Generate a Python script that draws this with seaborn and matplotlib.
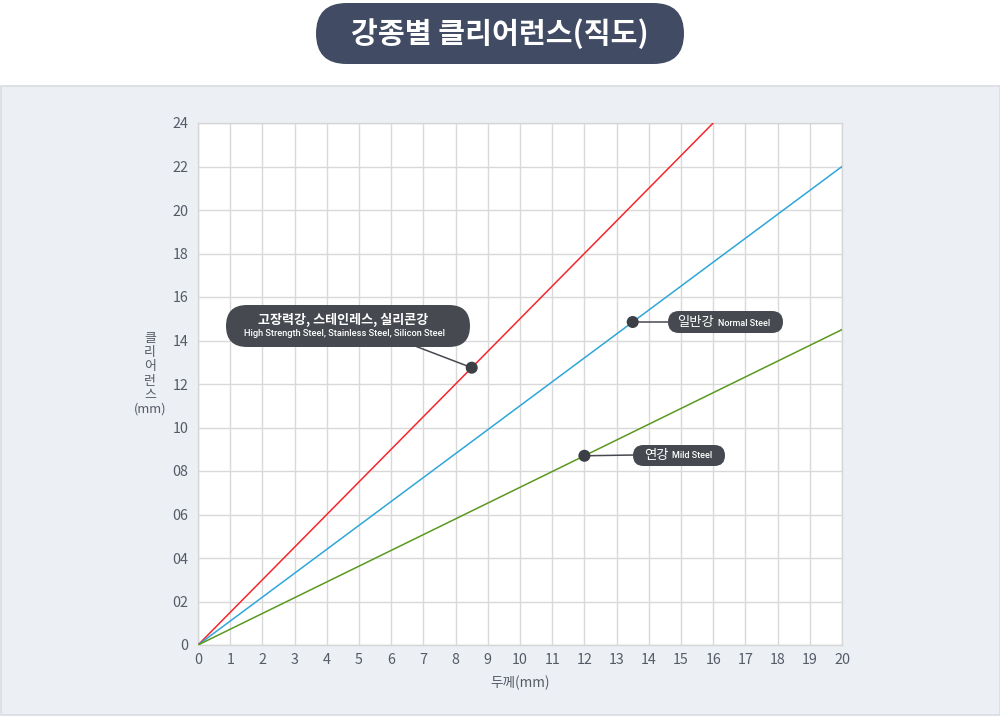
import matplotlib
matplotlib.use("Agg")
import matplotlib.pyplot as plt
from matplotlib.patches import FancyBboxPatch, Rectangle
from matplotlib.transforms import IdentityTransform
import seaborn as sns
import pandas as pd

# ---- data ----
red_x = [0, 16]
red_y = [0, 24]
blue_x = [0, 20]
blue_y = [0, 22]
green_x = [0, 20]
green_y = [0, 14.5]
marker_x = [8.5, 13.5, 12]
marker_y = [12.75, 14.85, 8.7]
x_ticks = list(range(0, 21))
y_ticks = list(range(0, 25, 2))
y_tick_labels = ["0", "02", "04", "06", "08", "10", "12", "14", "16", "18", "20", "22", "24"]
title = "강종별 클리어런스(직도)"
label_ko = ["고장력강, 스테인레스, 실리콘강", "일반강", "연강"]
label_en = ["High Strength Steel, Stainless Steel, Silicon Steel", "Normal Steel", "Mild Steel"]

sns.set_theme(style="white")
plt.rcParams["font.family"] = ["Noto Sans CJK KR", "DejaVu Sans"]

W, H = 1000, 717
fig = plt.figure(figsize=(10, 7.17), dpi=100)
fig.patch.set_facecolor("white")

# background panel
fig.add_artist(Rectangle((0.5, H - 715), 999, 629, transform=IdentityTransform(),
                         facecolor="#eceff4", edgecolor="#d9dce1", lw=1.2, zorder=0))

ax = fig.add_axes([198 / W, 1 - 645 / H, 644 / W, 522 / H])
ax.set_facecolor("white")

df = pd.concat([
    pd.DataFrame({"x": red_x, "y": red_y, "s": "red"}),
    pd.DataFrame({"x": blue_x, "y": blue_y, "s": "blue"}),
    pd.DataFrame({"x": green_x, "y": green_y, "s": "green"}),
])
sns.lineplot(data=df, x="x", y="y", hue="s",
             palette={"red": "#f5262b", "blue": "#2fa6d9", "green": "#5a9920"},
             ax=ax, lw=1.1, legend=False, zorder=3)

ax.set_xlim(0, 20)
ax.set_ylim(0, 24)
ax.set_xticks(x_ticks)
ax.set_yticks(y_ticks)
ax.set_yticklabels(y_tick_labels)
ax.grid(True, color="#d9d9d9", lw=1)
for s in ax.spines.values():
    s.set_color("#d6d6d6")
    s.set_linewidth(1)
ax.tick_params(axis="both", length=0, labelsize=10.3, colors="#555b66")
ax.tick_params(axis="x", pad=6)
ax.tick_params(axis="y", pad=7)
ax.set_xlabel("")
ax.set_ylabel("")

fig.text(520 / W, 1 - 683 / H, "두께(mm)", ha="center", va="center", fontsize=9.8, color="#555b66")
fig.text(150 / W, 1 - 374 / H, "클\n리\n어\n런\n스\n(mm)", ha="center", va="center",
         fontsize=9.3, color="#555b66", linespacing=1.12)

# markers
sns.scatterplot(x=marker_x, y=marker_y, ax=ax, s=75, color="#3c3f46", edgecolor="none",
                zorder=6, clip_on=False)

pill = "#46494f"


def pill_box(x0, y0, x1, y1, color):
    h = y1 - y0
    fig.add_artist(FancyBboxPatch((x0, H - y1), x1 - x0, h,
                                  boxstyle=f"round,pad=0,rounding_size={h / 2}",
                                  transform=IdentityTransform(), facecolor=color,
                                  edgecolor="none", zorder=10))


def connector(i, px, py):
    ax.annotate("", xy=(marker_x[i], marker_y[i]), xycoords="data",
                xytext=(px, H - py), textcoords="figure pixels",
                arrowprops=dict(arrowstyle="-", color="#46494f", lw=1.1,
                                shrinkA=0, shrinkB=0), zorder=5)


# box 1
connector(0, 415, 346)
pill_box(226, 305, 470, 347, pill)
fig.text(343 / W, 1 - 320 / H, label_ko[0], ha="center", va="center", fontsize=9.4,
         fontweight="bold", color="white", zorder=11)
fig.text(345 / W, 1 - 334 / H, label_en[0], ha="center", va="center", fontsize=6.7,
         color="white", zorder=11, family=["Roboto", "DejaVu Sans"], fontweight="medium")

# box 2
connector(1, 670, 322)
pill_box(668, 311, 783, 333, pill)
fig.text(677 / W, 1 - 322 / H, label_ko[1], ha="left", va="center", fontsize=9.6,
         color="white", zorder=11)
fig.text(718 / W, 1 - 323 / H, label_en[1], ha="left", va="center", fontsize=6.5,
         color="white", zorder=11, family=["Roboto", "DejaVu Sans"], fontweight="medium")

# box 3
connector(2, 635, 455)
pill_box(633, 445, 725, 466, pill)
fig.text(644 / W, 1 - 455 / H, label_ko[2], ha="left", va="center", fontsize=9.6,
         color="white", zorder=11)
fig.text(672 / W, 1 - 456 / H, label_en[2], ha="left", va="center", fontsize=6.5,
         color="white", zorder=11, family=["Roboto", "DejaVu Sans"], fontweight="medium")

# title
pill_box(316, 3, 684, 64, "#414b63")
fig.text(500 / W, 1 - 34 / H, title, ha="center", va="center", fontsize=21,
         fontweight="bold", color="white", zorder=11)

fig.savefig("out.png", dpi=100, facecolor="white")
